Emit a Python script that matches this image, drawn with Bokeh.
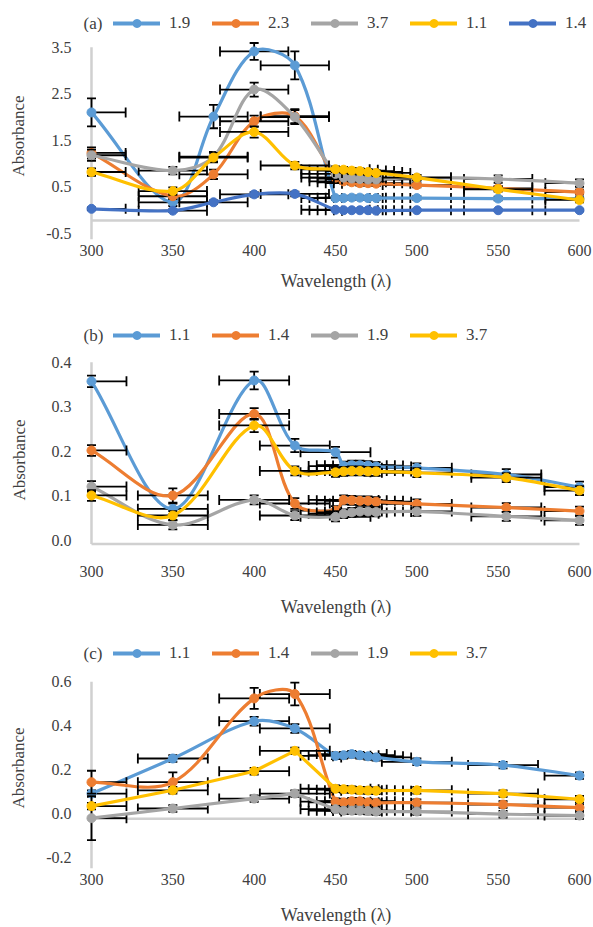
import numpy as np
from bokeh.plotting import figure
from bokeh.models import (Range1d, FixedTicker, NumeralTickFormatter, Legend,
                          LegendItem, Label)
from bokeh.layouts import column
from bokeh.embed import file_html
from bokeh.resources import INLINE

FONT = "Liberation Serif"
TXT = "#404040"
AXIS_COL = "#D0D0D0"

X_TICKS = [300, 350, 400, 450, 500, 550, 600]
XMIN, XMAX = 300, 600

# ---------------- panel (a) ----------------
XA = [300, 350, 375, 400, 425, 450, 455, 460, 465, 470, 475, 500, 550, 600]
A_LABELS = ["1.9", "2.3", "3.7", "1.1", "1.4"]
A_19 = [2.10, 0.17, 2.01, 3.41, 3.11, 0.26, 0.26, 0.27, 0.27, 0.26, 0.26, 0.26, 0.25, 0.25]
A_23 = [1.23, 0.30, 0.77, 1.91, 2.02, 0.70, 0.62, 0.60, 0.58, 0.58, 0.57, 0.54, 0.47, 0.39]
A_37 = [1.18, 0.85, 1.15, 2.59, 2.00, 0.78, 0.70, 0.68, 0.67, 0.66, 0.66, 0.70, 0.67, 0.58]
A_11 = [0.82, 0.41, 1.13, 1.68, 0.96, 0.88, 0.87, 0.85, 0.84, 0.82, 0.80, 0.70, 0.45, 0.22]
A_14 = [0.03, -0.01, 0.17, 0.34, 0.35, 0.01, 0.00, 0.00, 0.00, 0.00, -0.01, 0.00, 0.00, 0.00]
A_E19 = [0.30, 0.08, 0.25, 0.18, 0.30, 0.04, 0.04, 0.04, 0.04, 0.04, 0.04, 0.04, 0.04, 0.04]
A_E23 = [0.12, 0.06, 0.10, 0.12, 0.15, 0.06, 0.05, 0.05, 0.05, 0.05, 0.05, 0.05, 0.05, 0.05]
A_E37 = [0.12, 0.08, 0.10, 0.15, 0.15, 0.06, 0.06, 0.06, 0.06, 0.06, 0.06, 0.06, 0.08, 0.08]
A_E11 = [0.08, 0.08, 0.10, 0.12, 0.08, 0.06, 0.06, 0.06, 0.06, 0.06, 0.06, 0.06, 0.05, 0.05]
A_E14 = [0.03, 0.03, 0.04, 0.05, 0.05, 0.02, 0.02, 0.02, 0.02, 0.02, 0.02, 0.02, 0.02, 0.02]
A_XERR = 21
A_YTICKS = [-0.5, 0.5, 1.5, 2.5, 3.5]

# ---------------- panel (b) ----------------
XB = [300, 350, 400, 425, 450, 455, 460, 465, 470, 475, 500, 555, 600]
B_LABELS = ["1.1", "1.4", "1.9", "3.7"]
B_11 = [0.357, 0.071, 0.359, 0.213, 0.198, 0.167, 0.169, 0.169, 0.168, 0.166, 0.163, 0.148, 0.120]
B_14 = [0.202, 0.101, 0.284, 0.083, 0.067, 0.091, 0.090, 0.089, 0.089, 0.087, 0.082, 0.074, 0.066]
B_19 = [0.121, 0.035, 0.091, 0.056, 0.053, 0.060, 0.063, 0.065, 0.065, 0.064, 0.065, 0.054, 0.045]
B_37 = [0.101, 0.056, 0.258, 0.156, 0.153, 0.155, 0.156, 0.156, 0.155, 0.155, 0.152, 0.141, 0.112]
B_E11 = [0.013, 0.012, 0.020, 0.015, 0.012, 0.010, 0.010, 0.010, 0.010, 0.010, 0.010, 0.012, 0.012]
B_E14 = [0.012, 0.016, 0.013, 0.012, 0.010, 0.010, 0.010, 0.010, 0.010, 0.010, 0.010, 0.010, 0.010]
B_E19 = [0.012, 0.010, 0.010, 0.010, 0.010, 0.010, 0.010, 0.010, 0.010, 0.010, 0.010, 0.010, 0.010]
B_E37 = [0.012, 0.010, 0.015, 0.010, 0.010, 0.010, 0.010, 0.010, 0.010, 0.010, 0.010, 0.010, 0.010]
B_XERR = 21.5
B_YTICKS = [0.0, 0.1, 0.2, 0.3, 0.4]

# ---------------- panel (c) ----------------
XC = [300, 350, 400, 425, 450, 455, 460, 465, 470, 475, 500, 553, 600]
C_LABELS = ["1.1", "1.4", "1.9", "3.7"]
C_11 = [0.090, 0.250, 0.420, 0.387, 0.262, 0.265, 0.270, 0.265, 0.260, 0.255, 0.235, 0.220, 0.172]
C_14 = [0.142, 0.142, 0.524, 0.544, 0.053, 0.050, 0.055, 0.055, 0.050, 0.048, 0.049, 0.040, 0.026]
C_19 = [-0.022, 0.022, 0.067, 0.090, 0.019, 0.012, 0.012, 0.012, 0.010, 0.008, 0.008, -0.004, -0.010]
C_37 = [0.033, 0.105, 0.192, 0.285, 0.112, 0.110, 0.108, 0.105, 0.104, 0.103, 0.105, 0.090, 0.064]
C_E11 = [0.015, 0.015, 0.020, 0.020, 0.015, 0.015, 0.015, 0.015, 0.015, 0.015, 0.015, 0.015, 0.015]
C_E14 = [0.052, 0.045, 0.048, 0.052, 0.015, 0.015, 0.015, 0.015, 0.015, 0.015, 0.015, 0.015, 0.015]
C_E19 = [0.100, 0.015, 0.015, 0.015, 0.015, 0.015, 0.015, 0.015, 0.015, 0.015, 0.015, 0.015, 0.015]
C_E37 = [0.015, 0.015, 0.015, 0.015, 0.015, 0.015, 0.015, 0.015, 0.015, 0.015, 0.015, 0.015, 0.015]
C_XERR = 21.5
C_YTICKS = [-0.2, 0.0, 0.2, 0.4, 0.6]

COLORS_A = ["#5B9BD5", "#ED7D31", "#A5A5A5", "#FFC000", "#4472C4"]
COLORS_BC = ["#5B9BD5", "#ED7D31", "#A5A5A5", "#FFC000"]

W = 593
FRAME_LEFT = 80
FRAME_RIGHT_PAD = 2
X_START, X_END = 293.24, 607.38
PX_PER_NM = (W - FRAME_LEFT - FRAME_RIGHT_PAD) / (X_END - X_START)


def bez(x, y, smooth, sy):
    """Excel-like smoothed bezier segments (tangents scaled in screen space)."""
    x = np.asarray(x, float)
    y = np.asarray(y, float)
    n = len(x)
    if not smooth:
        return dict(x0=x[:-1], y0=y[:-1], x1=x[1:], y1=y[1:],
                    cx0=x[:-1], cy0=y[:-1], cx1=x[1:], cy1=y[1:])
    xp = np.concatenate([[x[0]], x, [x[-1]]])
    yp = np.concatenate([[y[0]], y, [y[-1]]])
    d = np.hypot(np.diff(xp) * PX_PER_NM, np.diff(yp) * sy)
    d01 = d[0:n - 1]
    d12 = d[1:n]
    d23 = d[2:n + 1]
    k1 = d12 / (3.0 * (d01 + d12))
    k2 = d12 / (3.0 * (d12 + d23))
    cx0 = x[:-1] + (xp[2:n + 1] - xp[0:n - 1]) * k1
    cy0 = y[:-1] + (yp[2:n + 1] - yp[0:n - 1]) * k1
    cx1 = x[1:] - (xp[3:n + 2] - xp[1:n]) * k2
    cy1 = y[1:] - (yp[3:n + 2] - yp[1:n]) * k2
    return dict(x0=x[:-1], y0=y[:-1], x1=x[1:], y1=y[1:],
                cx0=cx0, cy0=cy0, cx1=cx1, cy1=cy1)


def legend_fig(tag, xs, series, labels, colors, height, center_from_bottom):
    p = figure(width=W, height=height, output_backend="svg",
               toolbar_location=None, title=None,
               x_range=Range1d(0, 1), y_range=Range1d(0, 1),
               x_axis_location=None, y_axis_location=None,
               min_border_left=FRAME_LEFT, min_border_right=FRAME_RIGHT_PAD,
               min_border_top=0, min_border_bottom=0)
    p.outline_line_color = None
    p.grid.visible = False
    items = []
    for ys, lab, col in zip(series, labels, colors):
        lr = p.line(xs, ys, line_color=col, line_width=4, line_cap="round")
        mr = p.scatter(xs, ys, size=9, fill_color=col, line_color=col)
        items.append(LegendItem(label=lab, renderers=[lr, mr]))
    leg = Legend(items=items, orientation="horizontal",
                 location=(33, center_from_bottom - 10),
                 background_fill_alpha=0, border_line_alpha=0, padding=0,
                 margin=0, spacing=21, glyph_width=47, glyph_height=20,
                 label_height=20, label_width=22, label_standoff=9,
                 label_text_font=FONT, label_text_font_size="17px",
                 label_text_color=TXT, label_text_baseline="middle")
    p.add_layout(leg)
    p.add_layout(Label(x=3, y=center_from_bottom, x_units="screen",
                       y_units="screen", text=tag, text_font=FONT,
                       text_font_size="17px", text_color=TXT,
                       text_align="left", text_baseline="middle"))
    return p


def plot_fig(xs, series, colors, errs, xerr, smooth, yticks, yr, height,
             bt, bb, hline, vbot, vtop, ylab_standoff, xlab_standoff):
    p = figure(width=W, height=height, output_backend="svg",
               toolbar_location=None, title=None,
               x_range=Range1d(X_START, X_END), y_range=Range1d(*yr),
               min_border_left=FRAME_LEFT, min_border_right=FRAME_RIGHT_PAD,
               min_border_top=bt, min_border_bottom=bb)
    p.outline_line_color = None
    p.grid.visible = False
    frame_h = height - bt - bb
    sy = frame_h / (yr[1] - yr[0])
    for ax in (p.xaxis[0], p.yaxis[0]):
        ax.axis_line_color = None
        ax.major_tick_line_color = None
        ax.minor_tick_line_color = None
        ax.major_tick_out = 0
        ax.major_tick_in = 0
        ax.major_label_text_font = FONT
        ax.major_label_text_font_size = "16px"
        ax.major_label_text_color = TXT
        ax.axis_label_text_font = FONT
        ax.axis_label_text_font_style = "normal"
        ax.axis_label_text_color = TXT
    p.xaxis.ticker = FixedTicker(ticks=X_TICKS)
    p.xaxis.major_label_standoff = 5
    p.xaxis.axis_label = "Wavelength (\u03bb)"
    p.xaxis.axis_label_text_font_size = "18px"
    p.xaxis.axis_label_standoff = xlab_standoff
    p.yaxis.ticker = FixedTicker(ticks=yticks)
    p.yaxis.formatter = NumeralTickFormatter(format="0.0")
    p.yaxis.major_label_standoff = 9
    p.yaxis.axis_label = "Absorbance"
    p.yaxis.axis_label_text_font_size = "17px"
    p.yaxis.axis_label_standoff = ylab_standoff

    p.segment(x0=[XMIN], y0=[vbot], x1=[XMIN], y1=[vtop],
              line_color=AXIS_COL, line_width=2.5)
    p.segment(x0=[XMIN], y0=[hline], x1=[XMAX], y1=[hline],
              line_color=AXIS_COL, line_width=2.5)

    x = np.asarray(xs, float)
    for ys, col, ye, sm in zip(series, colors, errs, smooth):
        y = np.asarray(ys, float)
        e = np.asarray(ye, float)
        lo = np.maximum(x - xerr, XMIN)
        hi = np.minimum(x + xerr, XMAX)
        p.segment(lo, y, hi, y, line_color="black", line_width=1.8)
        lm = (x - xerr) >= XMIN
        rm = (x + xerr) <= XMAX
        p.scatter(np.concatenate([(x - xerr)[lm], (x + xerr)[rm]]),
                  np.concatenate([y[lm], y[rm]]), marker="dash",
                  angle=np.pi / 2, size=10, line_color="black", line_width=1.8)
        p.segment(x, y - e, x, y + e, line_color="black", line_width=1.8)
        p.scatter(np.concatenate([x, x]), np.concatenate([y - e, y + e]),
                  marker="dash", size=9, line_color="black", line_width=1.8)
        p.bezier(source=bez(x, y, sm, sy), x0="x0", y0="y0", x1="x1",
                 y1="y1", cx0="cx0", cy0="cy0", cx1="cx1", cy1="cy1",
                 line_color=col, line_width=3.2, line_cap="round")
        p.scatter(x, y, size=9, fill_color=col, line_color=col)
    return p


la = legend_fig("(a)", XA, [A_19, A_23, A_37, A_11, A_14], A_LABELS, COLORS_A, 32, 9)
pa = plot_fig(XA, [A_19, A_23, A_37, A_11, A_14], COLORS_A,
              [A_E19, A_E23, A_E37, A_E11, A_E14], A_XERR,
              [True, True, True, True, True], A_YTICKS,
              (-0.629, 3.816), 286, 0, 79, -0.22, -0.629, 3.5, 15, 12)
lb = legend_fig("(b)", XB, [B_11, B_14, B_19, B_37], B_LABELS, COLORS_BC, 32, 15)
pb = plot_fig(XB, [B_11, B_14, B_19, B_37], COLORS_BC,
              [B_E11, B_E14, B_E19, B_E37], B_XERR,
              [True, True, True, True], B_YTICKS,
              (-0.0449, 0.406), 278, 9, 68, -0.008, -0.008, 0.4, 20, 17)
lc = legend_fig("(c)", XC, [C_11, C_14, C_19, C_37], C_LABELS, COLORS_BC, 35, 10)
pc = plot_fig(XC, [C_11, C_14, C_19, C_37], COLORS_BC,
              [C_E11, C_E14, C_E19, C_E37], C_XERR,
              [True, True, False, False], C_YTICKS,
              (-0.2517, 0.665), 264, 4, 56, -0.025, -0.2517, 0.6, 15, 17)

layout = column(la, pa, lb, pb, lc, pc, spacing=0)
open("out.html", "w").write(file_html(layout, INLINE))
